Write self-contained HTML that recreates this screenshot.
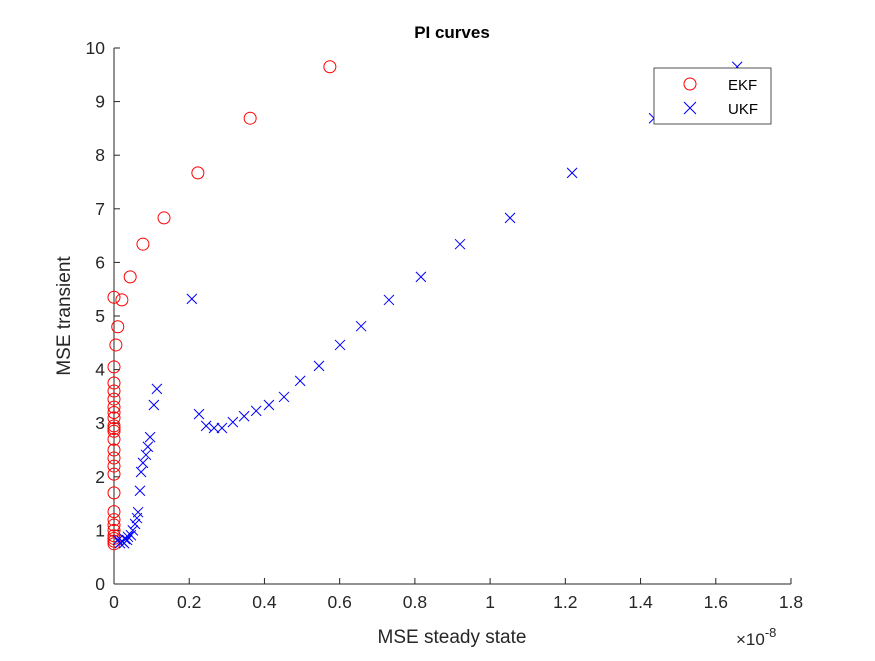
<!DOCTYPE html>
<html><head><meta charset="utf-8"><style>
body{margin:0;background:#fff;font-family:"Liberation Sans",Arial,sans-serif}
svg text{font-family:"Liberation Sans",Arial,sans-serif;fill:#262626}
</style></head><body>
<svg id="chart" width="875" height="656" xmlns="http://www.w3.org/2000/svg">
<rect width="875" height="656" fill="#fff"/>
<g id="axes"></g>
<g id="marks"></g>
<text x="452" y="38" text-anchor="middle" font-size="17" font-weight="bold" style="fill:#000">PI curves</text>
<text x="452" y="643" text-anchor="middle" font-size="19">MSE steady state</text>
<text transform="translate(70,316) rotate(-90)" text-anchor="middle" font-size="19">MSE transient</text>
<text x="736" y="645" font-size="17">×10<tspan font-size="13" dy="-8">-8</tspan></text>
<g>
<rect x="654" y="68" width="117" height="56" fill="#fff" stroke="#262626" stroke-width="0.8"/>
<circle cx="690" cy="84" r="6" fill="none" stroke="#f00"/>
<text x="728" y="90" font-size="15" style="fill:#000">EKF</text>
<path d="M684,102 l12,12 M696,102 l-12,12" stroke="#00f"/>
<text x="728" y="114" font-size="15" style="fill:#000">UKF</text>
</g>
</svg>
<script>
const ekfX=[0.574,0.362,0.223,0.133,0.077,0.043,0.021,0.0,0.01,0.005,0,0,0,0,0,0,0,0,0,0,0,0,0,0,0,0,0,0,0,0,0,0,0,0];
const ekfY=[9.65,8.69,7.67,6.83,6.34,5.73,5.30,5.35,4.8,4.46,4.05,3.75,3.6,3.45,3.3,3.2,3.1,2.95,2.9,2.85,2.7,2.5,2.35,2.2,2.05,1.7,1.35,1.2,1.1,1.0,0.9,0.85,0.8,0.75];
const ukfX=[1.657,1.436,1.218,1.053,0.920,0.816,0.731,0.657,0.601,0.545,0.495,0.452,0.412,0.378,0.346,0.316,0.287,0.266,0.245,0.226,0.207,0.114,0.106,0.096,0.090,0.085,0.077,0.072,0.069,0.064,0.061,0.056,0.05,0.045,0.037,0.029,0.021,0.016,0.011,0.035,0.027];
const ukfY=[9.65,8.69,7.67,6.83,6.34,5.73,5.30,4.81,4.46,4.07,3.79,3.49,3.34,3.23,3.13,3.02,2.91,2.91,2.95,3.17,5.32,3.64,3.34,2.74,2.56,2.41,2.26,2.09,1.74,1.34,1.23,1.12,1.0,0.91,0.88,0.84,0.80,0.76,0.82,0.82,0.76];
const xTicks=[0,0.2,0.4,0.6,0.8,1,1.2,1.4,1.6,1.8];
const yTicks=[0,1,2,3,4,5,6,7,8,9,10];
const X0=114,X1=791,Y0=584,Y1=48;
const sx=v=>X0+(v/1.8)*(X1-X0);
const sy=v=>Y0-(v/10)*(Y0-Y1);
const NS="http://www.w3.org/2000/svg";
const ax=document.getElementById('axes'),mk=document.getElementById('marks');
function mkEl(t,a,p){const e=document.createElementNS(NS,t);for(const k in a)e.setAttribute(k,a[k]);p.appendChild(e);return e;}
let l=mkEl('line',{x1:X0,y1:Y0,x2:X1,y2:Y0,stroke:'#262626'},ax);


l=mkEl('line',{x1:X0,y1:Y0,x2:X0,y2:Y1,stroke:'#262626'},ax);


xTicks.forEach(v=>{const x=sx(v);mkEl('line',{x1:x,y1:Y0,x2:x,y2:Y0-6,stroke:'#262626'},ax);
const t=mkEl('text',{x:x,y:Y0+24,'text-anchor':'middle','font-size':'17.5'},ax);t.textContent=v;

});
yTicks.forEach(v=>{const y=sy(v);mkEl('line',{x1:X0,y1:y,x2:X0+6,y2:y,stroke:'#262626'},ax);
const t=mkEl('text',{x:X0-9,y:y+6,'text-anchor':'end','font-size':'17.5'},ax);t.textContent=v;

});
ekfX.forEach((v,i)=>{const c=mkEl('circle',{cx:sx(v),cy:sy(ekfY[i]),r:6,fill:'none',stroke:'#f00'},mk);

});
ukfX.forEach((v,i)=>{const x=sx(v),y=sy(ukfY[i]);const p=mkEl('path',{d:`M${x-5},${y-5}L${x+5},${y+5}M${x+5},${y-5}L${x-5},${y+5}`,stroke:'#00f',fill:'none'},mk);

});
</script>
</body></html>
